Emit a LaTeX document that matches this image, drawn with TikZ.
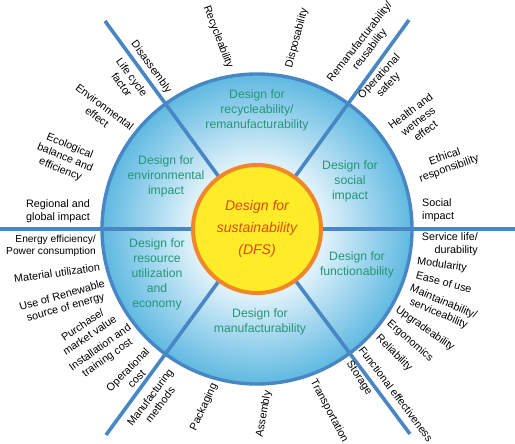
\documentclass[tikz,border=0pt]{standalone}
\usepackage{fontspec}
\setmainfont{Liberation Sans}
\usetikzlibrary{positioning}
\definecolor{ringedge}{RGB}{72,134,196}
\definecolor{ringdark}{RGB}{95,185,225}
\definecolor{ringlight}{RGB}{222,241,250}
\definecolor{hubfill}{RGB}{255,236,40}
\definecolor{hubedge}{RGB}{240,135,40}
\definecolor{secgreen}{RGB}{35,150,120}
\definecolor{hubtext}{RGB}{220,75,20}
\pgfdeclareradialshading{ringshade}{\pgfpoint{0bp}{0bp}}{color(0bp)=(ringlight); color(11bp)=(ringlight); color(25bp)=(ringdark); color(50bp)=(ringdark)}

\begin{document}
\begin{tikzpicture}[x=1pt, y=-1pt,
  lab/.style={font=\fontsize{10.8}{12.5}\selectfont, align=center, inner sep=0pt},
  sect/.style={text=secgreen, font=\fontsize{12.2}{15}\selectfont, align=center, inner sep=0pt},
  spoke/.style={line width=3.6pt, draw=ringedge},
]
\useasboundingbox (0,0) rectangle (515,444);

% Centre and spoke ends
\coordinate (c) at (257,229);
\coordinate (e) at (515,229);
\coordinate (w) at (0,229);
\coordinate (ne) at (409,20);
\coordinate (nw) at (105,21);
\coordinate (se) at (410,434);
\coordinate (sw) at (106,435);

% Outer ring
\node[circle, minimum size=310pt, shading=ringshade, draw=ringedge, line width=3.4pt] (ring) at (c) {};

% Hub
\node[circle, minimum size=128pt, fill=hubfill, draw=hubedge, line width=4pt, text=hubtext,
      font=\itshape\fontsize{14}{22}\selectfont, align=center] (hub) at (c)
  {Design for\\sustainability\\(DFS)};

% Spokes
\draw[spoke] (hub) -- (e);
\draw[spoke] (hub) -- (w);
\draw[spoke] (hub) -- (ne);
\draw[spoke] (hub) -- (nw);
\draw[spoke] (hub) -- (se);
\draw[spoke] (hub) -- (sw);

% Sections
\node[sect] (recycle) at (257,110) {Design for\\recycleability/\\remanufacturability};
\node[sect] (social) at (350,181) {Design for\\social\\impact};
\node[sect] (function) at (357,265) {Design for\\functionability};
\node[sect] (manuf) at (260,322) {Design for\\manufacturability};
\node[sect] (resource) at (157,274) {Design for\\resource\\utilization\\and\\economy};
\node[sect] (environ) at (166,176) {Design for\\environmental\\impact};

% Labels, top
\node[lab, rotate=-54] (disassembly) at (151,67) {Disassembly};
\node[lab, rotate=-69] (recycl) at (218,37) {Recycleability};
\node[lab, rotate=75] (dispos) at (297,38) {Disposability};
\node[lab, rotate=52] (reman) at (365,46) {Remanufacturability/\\reusability};

% Labels, social
\node[lab, rotate=47] (opsafe) at (384,81) {Operational\\safety};
\node[lab, rotate=37] (health) at (418,121) {Health and\\wetness\\effect};
\node[lab, rotate=20] (ethic) at (447,163) {Ethical\\responsibility};
\node[lab, align=left, anchor=west] (socimp) at (422,210) {Social\\impact};

% Labels, functionability
\node[lab, align=right, anchor=east] (service) at (478,244) {Service life/\\durability};
\node[lab, rotate=-8] (modul) at (442,265) {Modularity};
\node[lab, rotate=-15] (ease) at (444,282) {Ease of use};
\node[lab, rotate=-23] (maint) at (441,308) {Maintainability/\\serviceability};
\node[lab, rotate=-35] (upgr) at (425,329) {Upgradeability};
\node[lab, rotate=-41] (ergo) at (410,341) {Ergonomics};
\node[lab, rotate=-45] (reli) at (394,353) {Reliability};
\node[lab, rotate=-53] (funceff) at (396,394) {Functional effectiveness};

% Labels, manufacturability
\node[lab, rotate=-57] (storage) at (359,378) {Storage};
\node[lab, rotate=-62] (transp) at (329,411) {Transportation};
\node[lab, rotate=80] (assembly) at (264,414) {Assembly};
\node[lab, rotate=65] (packag) at (204,407) {Packaging};
\node[lab, rotate=53] (manmeth) at (155,401) {Manufacturing\\methods};

% Labels, resource utilization
\node[lab, rotate=45] (opcost) at (132,374) {Operational\\cost};
\node[lab, rotate=35] (install) at (104,353) {Installation and\\training cost};
\node[lab, rotate=34] (purch) at (86,330) {Purchase/\\market value};
\node[lab, rotate=16] (renew) at (64,302) {Use of Renewable\\source of energy};
\node[lab, rotate=8] (mater) at (57,273) {Material utilization};
\node[lab, font=\fontsize{10.2}{12.5}\selectfont, align=right, anchor=east] (energy) at (96,246) {Energy efficiency/\\Power consumption};

% Labels, environmental impact
\node[lab] (region) at (58,211) {Regional and\\global impact};
\node[lab, rotate=-22] (ecolog) at (65,158) {Ecological\\balance and\\efficiency};
\node[lab, rotate=-37] (envef) at (101,112) {Environmental\\effect};
\node[lab, rotate=-54] (lifecyc) at (127,81) {Life cycle\\factor};
\end{tikzpicture}
\end{document}
